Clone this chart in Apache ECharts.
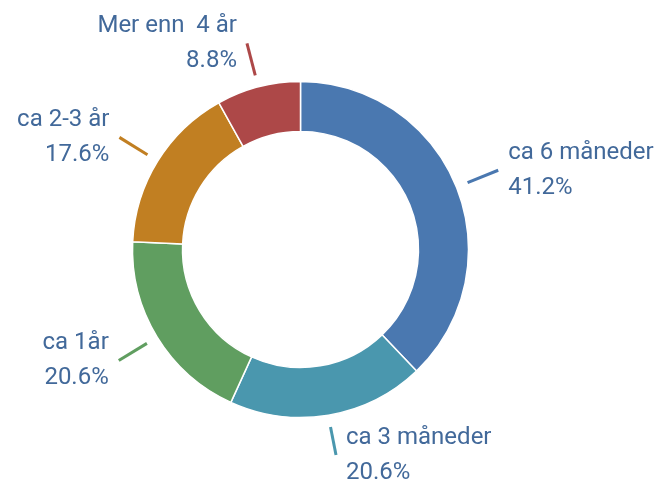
<!DOCTYPE html>
<html>
<head>
    <meta charset="UTF-8">
    <title>Donut</title>
    <script src="https://cdn.jsdelivr.net/npm/echarts@6/dist/echarts.min.js"></script>
    <style>
        html, body { margin: 0; padding: 0; background: #fff; }
    </style>
</head>
<body>
<div id="donut" style="width: 654px;height: 491px;"></div>
<script type="text/javascript">
    // verdier lest fra figuren
    var categories = ['ca 6 måneder', 'ca 3 måneder', 'ca 1år', 'ca 2-3 år', 'Mer enn  4 år'];
    var percents = [41.2, 20.6, 20.6, 17.6, 8.8];
    var colors = ['#4a78b0', '#4a97ae', '#609e60', '#c17f22', '#ad4848'];

    var chartDom = document.getElementById('donut');
    var myChart = echarts.init(chartDom);

    var data = categories.map(function (name, i) {
        return {name: name, value: percents[i]};
    });

    var option = {
        animation: false,
        color: colors,
        series: [
            {
                name: 'ring',
                type: 'pie',
                center: [300.5, 249.5],
                radius: [118, 168],
                startAngle: 90,
                silent: true,
                label: {show: false},
                labelLine: {show: false},
                itemStyle: {
                    borderColor: '#fff',
                    borderWidth: 1.5
                },
                data: data
            },
            {
                // usynlig ring som bare tegner etiketter og streker
                name: 'labels',
                type: 'pie',
                center: [300.5, 249.5],
                radius: [179, 180],
                startAngle: 90,
                silent: true,
                itemStyle: {color: 'transparent'},
                label: {
                    show: true,
                    color: '#42699a',
                    fontFamily: 'Roboto',
                    fontSize: 24,
                    lineHeight: 35,
                    padding: [0, 5],
                    overflow: 'none',
                    formatter: function (p) {
                        return p.name + '\n' + p.value.toFixed(1) + '%';
                    }
                },
                labelLine: {
                    show: true,
                    length: 33,
                    length2: 0,
                    lineStyle: {width: 3}
                },
                data: data.map(function (d, i) {
                    return {
                        name: d.name,
                        value: d.value,
                        labelLine: {lineStyle: {color: colors[i]}}
                    };
                })
            }
        ]
    };

    option && myChart.setOption(option);
</script>
</body>
</html>
